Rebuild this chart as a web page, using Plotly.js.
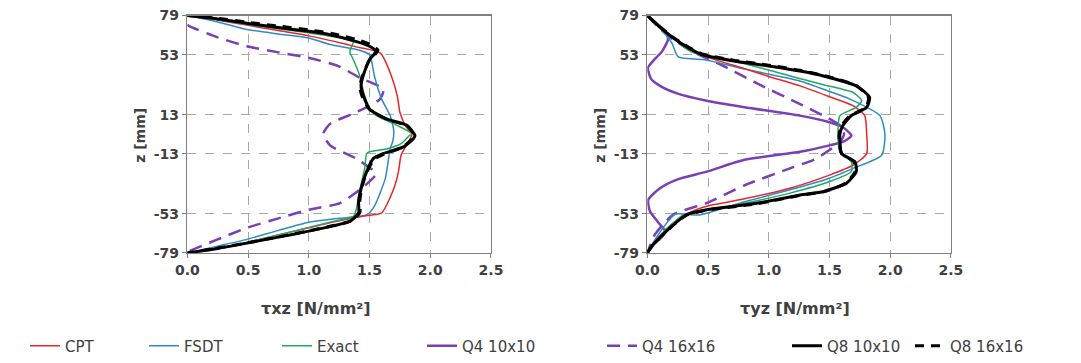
<!DOCTYPE html>
<html>
<head>
<meta charset="utf-8">
<script src="https://cdn.plot.ly/plotly-3.0.1.min.js"></script>
<style>
html,body{margin:0;padding:0;background:#fff;}
#chart{width:1081px;height:363px;}
</style>
</head>
<body>
<div id="chart"></div>
<script>
// ---------- tick labels ----------
const zTicks = [-79, -53, -13, 13, 53, 79];
const zTickText = ['-79', '-53', '-13', '13', '53', '79'];
const tauTicks = [0, 0.5, 1, 1.5, 2, 2.5];
const tauTickText = ['0.0', '0.5', '1.0', '1.5', '2.0', '2.5'];

// ---------- series names ----------
const seriesNames = ['CPT', 'FSDT', 'Exact', 'Q4 10x10', 'Q4 16x16', 'Q8 10x10', 'Q8 16x16'];

// ---------- left panel: tau_xz ----------
const cptXzTau = [0, 0.25, 0.5, 0.75, 1.0, 1.2, 1.4, 1.59, 1.68, 1.73, 1.75, 1.80, 1.85, 1.82, 1.76, 1.74, 1.71, 1.67, 1.60, 1.44, 1.2, 1.0, 0.75, 0.49, 0.25, 0];
const cptXzZ   = [79, 76, 72.5, 69, 65.5, 62, 58, 54, 38.8, 25, 14.6, 5, 0, -5, -14, -24, -33.8, -42, -52.4, -54.6, -58.5, -62.3, -67, -72, -75.8, -79];

const fsdtXzTau = [0, 0.25, 0.49, 0.75, 1.0, 1.175, 1.4, 1.5, 1.54, 1.6, 1.67, 1.70, 1.69, 1.67, 1.63, 1.54, 1.48, 1.25, 1.0, 0.75, 0.49, 0.25, 0];
const fsdtXzZ   = [79, 74.8, 69.8, 66.8, 64.1, 59.7, 56.3, 53.1, 38.8, 23.4, 12.4, 2, -5, -9.6, -29.4, -47.8, -53.5, -56, -58.6, -64, -70, -74.5, -79];

const exactXzTau = [0, 0.25, 0.5, 0.75, 1.0, 1.2, 1.366, 1.34, 1.34, 1.366, 1.42, 1.46, 1.52, 1.61, 1.75, 1.85, 1.83, 1.76, 1.65, 1.50, 1.476, 1.46, 1.42, 1.39, 1.37, 1.2, 1.0, 0.75, 0.49, 0.25, 0];
const exactXzZ   = [79, 76.3, 73, 70.3, 67.5, 65, 61.9, 56, 54.2, 49.8, 38.8, 25.6, 14.6, 10.2, 5, 0.3, -0.8, -6.3, -9.6, -11.7, -12.9, -22.7, -37, -50.2, -54.5, -58, -62, -67, -72, -75.8, -79];

const q4aXzTau = [];
const q4aXzZ   = [];

const q4bXzTau = [0, 0.02, 0.25, 0.49, 0.75, 0.996, 1.243, 1.42, 1.614, 1.586, 1.39, 1.175, 1.12, 1.175, 1.39, 1.54, 1.55, 1.45, 1.257, 0.996, 0.75, 0.49, 0.25, 0.02, 0];
const q4bXzZ   = [73, 71.8, 64.5, 58.6, 54.5, 50.9, 45.4, 37.6, 30, 23.4, 14.6, 6.9, 0.3, -7.4, -16.2, -24.9, -27, -35, -45.8, -50.3, -56, -62.3, -70, -77.7, -79];

const q8aXzTau = [0, 0.25, 0.5, 0.75, 1.0, 1.175, 1.4, 1.5, 1.55, 1.54, 1.5, 1.447, 1.43, 1.45, 1.5, 1.64, 1.81, 1.874, 1.86, 1.78, 1.61, 1.53, 1.476, 1.435, 1.41, 1.41, 1.34, 1.2, 1.0, 0.75, 0.49, 0.25, 0];
const q8aXzZ   = [79, 76.8, 73.8, 71, 68.5, 66.3, 61.5, 58.6, 55.5, 53.5, 49.8, 38.8, 32.2, 25.6, 16.8, 10.2, 5.8, -0.9, -3, -8.4, -12.9, -16.2, -24.9, -34.8, -44.7, -52.4, -57.9, -61, -64.5, -68.5, -72.5, -76, -79];

const q8bXzTau = [0, 0.25, 0.5, 0.75, 1.0, 1.2, 1.4, 1.5, 1.57, 1.55, 1.5, 1.44, 1.42, 1.44, 1.5, 1.64, 1.81, 1.87, 1.85, 1.77, 1.62, 1.54, 1.48, 1.44, 1.42, 1.42, 1.35, 1.2, 1.0, 0.75, 0.49, 0.25, 0];
const q8bXzZ   = [79, 77.2, 74.5, 72, 69.5, 67, 63, 60, 56, 53.5, 49.5, 38.5, 31.5, 25, 16.5, 10, 5.5, -1, -3.2, -8.6, -13.2, -16.5, -25, -34.5, -44.5, -52.2, -57.6, -60.8, -64.3, -68.3, -72.3, -75.8, -79];

// ---------- right panel: tau_yz ----------
const cptYzTau = [0, 0.1, 0.2, 0.35, 0.45, 0.8, 1.0, 1.257, 1.5, 1.695, 1.79, 1.806, 1.806, 1.695, 1.5, 1.175, 0.8, 0.489, 0.324, 0.2, 0.1, 0];
const cptYzZ   = [79, 72, 65.5, 57, 52.5, 43.7, 38.5, 32.2, 25, 19, 12.4, 0.3, -12.9, -20.6, -27.2, -35.9, -43, -48, -53.1, -60, -68, -79];

const fsdtYzTau = [0, 0.1, 0.2, 0.255, 0.46, 0.8, 1.0, 1.257, 1.5, 1.668, 1.915, 1.956, 1.93, 1.695, 1.5, 1.175, 0.8, 0.434, 0.228, 0.13, 0.05, 0];
const fsdtYzZ   = [79, 71, 61, 51.5, 49.7, 43.5, 40, 35.5, 28.5, 23.4, 12.4, 0.3, -14, -22.7, -29.3, -37, -45, -53.7, -53.3, -62.3, -72, -79];

const exactYzTau = [0, 0.1, 0.2, 0.3, 0.38, 0.5, 0.8, 1.175, 1.45, 1.695, 1.765, 1.72, 1.586, 1.57, 1.586, 1.68, 1.68, 1.5, 1.175, 0.8, 0.5, 0.3, 0.2, 0.1, 0];
const exactYzZ   = [79, 72, 65, 58, 54.2, 52, 47, 38.8, 33, 27.8, 22.3, 17.9, 12.4, 0.3, -11.8, -18.3, -24.9, -31.5, -39.2, -46, -50.5, -53.5, -60, -68, -79];

const q4aYzTau = [0, 0.09, 0.16, 0.17, 0.12, 0.05, 0.005, 0.03, 0.105, 0.25, 0.489, 0.8, 1.257, 1.5, 1.61, 1.68, 1.61, 1.5, 1.257, 0.8, 0.489, 0.25, 0.105, 0.008, 0.022, 0.105, 0.15, 0.1, 0.03, 0];
const q4aYzZ   = [79, 73, 67, 63, 55, 49, 44.3, 37, 32.2, 27, 22.3, 18, 12.4, 8, 4.7, -0.9, -5.1, -7.4, -11.7, -17, -24.9, -30, -35.9, -43.6, -51.3, -60.1, -65, -70, -75, -79];

const q4bYzTau = [0, 0.1, 0.214, 0.4, 0.6, 0.9, 1.257, 1.476, 1.586, 1.62, 1.586, 1.39, 1.175, 0.8, 0.489, 0.214, 0.063, 0];
const q4bYzZ   = [79, 70.5, 63, 54, 46.5, 34, 20.1, 11.3, 5.8, 0, -5.1, -16.2, -22.7, -34, -45.8, -53.5, -66.7, -79];

const q8aYzTau = [0, 0.1, 0.214, 0.35, 0.448, 0.7, 1.0, 1.257, 1.45, 1.72, 1.83, 1.806, 1.68, 1.61, 1.586, 1.586, 1.6, 1.71, 1.72, 1.64, 1.45, 1.257, 0.9, 0.489, 0.324, 0.187, 0.05, 0];
const q8aYzZ   = [79, 71.5, 64.1, 57, 53.1, 49, 45.5, 42.1, 38.8, 32.2, 24.5, 17.9, 12.4, 5.8, 0.3, -5.1, -12.9, -18.3, -24.9, -32.6, -38.1, -40.4, -46, -50.3, -53.6, -62.3, -73.3, -79];

const q8bYzTau = [0, 0.1, 0.214, 0.35, 0.45, 0.7, 1.0, 1.257, 1.45, 1.72, 1.82, 1.80, 1.67, 1.60, 1.58, 1.58, 1.6, 1.70, 1.71, 1.63, 1.45, 1.257, 0.9, 0.489, 0.324, 0.187, 0.05, 0];
const q8bYzZ   = [79, 71.8, 64.5, 57.5, 53.5, 49.5, 46, 42.6, 39.2, 32.5, 24.5, 17.9, 12.4, 5.8, 0.3, -5.1, -12.9, -18.3, -24.9, -32.6, -38.4, -40.7, -46.3, -50.6, -53.8, -62.5, -73.4, -79];

// ---------- styling ----------
const colors = ['#e8262a', '#2e8bc9', '#23a860', '#7a3fb4', '#7a3fb4', '#000000', '#000000'];
const widths = [1.5, 1.5, 1.5, 2.5, 2.5, 3, 3];
const dashes = ['solid', 'solid', 'solid', 'solid', '13px,8px', 'solid', '9px,7px'];

const leftData = [
  [cptXzTau, cptXzZ], [fsdtXzTau, fsdtXzZ], [exactXzTau, exactXzZ], [q4aXzTau, q4aXzZ],
  [q4bXzTau, q4bXzZ], [q8aXzTau, q8aXzZ], [q8bXzTau, q8bXzZ]
];
const rightData = [
  [cptYzTau, cptYzZ], [fsdtYzTau, fsdtYzZ], [exactYzTau, exactYzZ], [q4aYzTau, q4aYzZ],
  [q4bYzTau, q4bYzZ], [q8aYzTau, q8aYzZ], [q8bYzTau, q8bYzZ]
];

const drawOrder = [4, 3, 1, 0, 2, 6, 5];
const legendIds = ['legend', 'legend2', 'legend3', 'legend4', 'legend5', 'legend6', 'legend7'];
const traces = [];
drawOrder.forEach(i => {
  if (leftData[i][0].length) {
    traces.push({
      x: leftData[i][0], y: leftData[i][1], xaxis: 'x', yaxis: 'y',
      type: 'scatter', mode: 'lines', name: seriesNames[i], showlegend: false,
      line: {color: colors[i], width: widths[i], dash: dashes[i], shape: 'spline', smoothing: 0.6}
    });
  }
});
drawOrder.forEach(i => {
  traces.push({
    x: rightData[i][0], y: rightData[i][1], xaxis: 'x2', yaxis: 'y2',
    type: 'scatter', mode: 'lines', name: seriesNames[i], showlegend: true,
    legend: legendIds[i],
    line: {color: colors[i], width: widths[i], dash: dashes[i], shape: 'spline', smoothing: 0.6}
  });
});

const tickFont = {family: 'DejaVu Sans', size: 14, color: '#404040', weight: 'bold'};
function xAx(domain, anchor) {
  return {
    domain: domain, anchor: anchor, range: [0, 2.5], tickvals: tauTicks, ticktext: tauTickText,
    showgrid: true, gridcolor: '#a8a8a8', griddash: 'dash', gridwidth: 1,
    showline: true, linecolor: '#808080', linewidth: 1.5, mirror: true,
    ticks: 'outside', ticklen: 4, tickcolor: '#808080', zeroline: false,
    tickfont: tickFont, automargin: false, fixedrange: true
  };
}
function yAx(anchor) {
  return {
    domain: [0.2975, 0.9567], anchor: anchor, range: [-79, 79], tickvals: zTicks, ticktext: zTickText,
    showgrid: true, gridcolor: '#a8a8a8', griddash: 'dash', gridwidth: 1,
    showline: true, linecolor: '#808080', linewidth: 1.5, mirror: true,
    ticks: 'outside', ticklen: 4, tickcolor: '#808080', zeroline: false,
    tickfont: tickFont, automargin: false, fixedrange: true
  };
}

const legendX = [33, 152, 285, 430, 610, 795, 918];
const legendFont = {family: 'DejaVu Sans', size: 15, color: '#404040'};
const titleFont = {family: 'DejaVu Sans', size: 16, color: '#404040', weight: 'bold'};
const yTitleFont = {family: 'DejaVu Sans', size: 14, color: '#404040', weight: 'bold'};
const layout = {
  width: 1081, height: 363,
  margin: {l: 0, r: 0, t: 0, b: 0},
  paper_bgcolor: '#ffffff', plot_bgcolor: '#ffffff',
  xaxis: xAx([0.1733, 0.4542], 'y'),
  yaxis: yAx('x'),
  xaxis2: xAx([0.5988, 0.8797], 'y2'),
  yaxis2: yAx('x2'),
  annotations: [
    {text: 'z [mm]', xref: 'paper', yref: 'paper', x: 140 / 1081, y: (363 - 137) / 363, textangle: -90, showarrow: false,
     xanchor: 'center', yanchor: 'middle', font: yTitleFont},
    {text: 'z [mm]', xref: 'paper', yref: 'paper', x: 600 / 1081, y: (363 - 137) / 363, textangle: -90, showarrow: false,
     xanchor: 'center', yanchor: 'middle', font: yTitleFont},
    {text: 'τxz [N/mm²]', xref: 'paper', yref: 'paper', x: 316 / 1081, y: (363 - 311) / 363, showarrow: false,
     xanchor: 'center', yanchor: 'middle', font: titleFont},
    {text: 'τyz [N/mm²]', xref: 'paper', yref: 'paper', x: 795 / 1081, y: (363 - 311) / 363, showarrow: false,
     xanchor: 'center', yanchor: 'middle', font: titleFont}
  ]
};
legendIds.forEach((id, k) => {
  layout[id] = {
    x: (legendX[k] - 8) / 1081, y: (363 - 349) / 363, xanchor: 'left', yanchor: 'middle',
    orientation: 'h', bgcolor: 'rgba(0,0,0,0)', borderwidth: 0, font: legendFont
  };
});

Plotly.newPlot('chart', traces, layout, {displayModeBar: false, staticPlot: true});
</script>
</body>
</html>
